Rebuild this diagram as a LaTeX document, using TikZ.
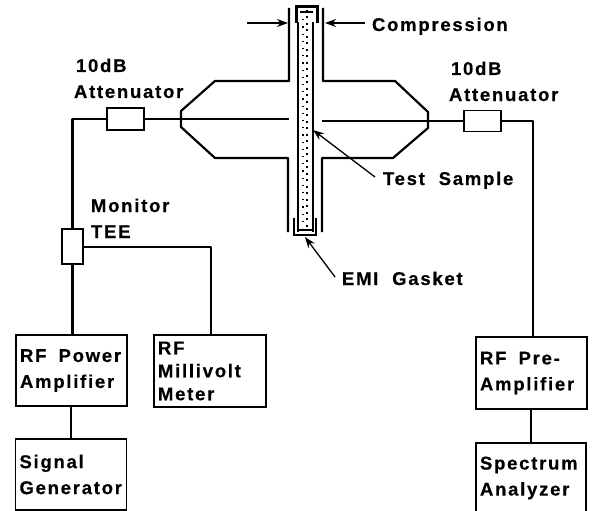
\documentclass[tikz,border=0pt]{standalone}
\usepackage{fontspec}
\setmainfont[LetterSpace=9.5,WordSpace=2,BoldFont=* Bold,BoldFeatures={FakeBold=0.4}]{Liberation Sans}
\usetikzlibrary{arrows.meta,calc}
\tikzset{
  x=1pt,y=-1pt,
  wire/.style={line width=1.7pt,line join=round},
  thick wire/.style={line width=2.2pt,line join=round},
  blockbox/.style={draw,line width=1.9pt,rectangle,minimum width=#1,minimum height=71pt,inner sep=0pt,outer sep=0pt,
     font=\fontsize{18.5}{26}\selectfont\bfseries,align=left,text width=#1-8pt},
  blockbox/.default=111pt,
  smallbox/.style={draw,line width=1.9pt,rectangle,inner sep=0pt,outer sep=0pt},
  lab/.style={font=\fontsize{18.5}{26}\selectfont\bfseries,anchor=base west,inner sep=0pt,outer sep=0pt},
  pointer/.style={line width=1.3pt,-{Stealth[length=11pt,width=8pt]}},
}
\begin{document}
\begin{tikzpicture}
\useasboundingbox (0,0) rectangle (592,511);
\fill[white] (0,0) rectangle (592,511);
% boxes
\node[blockbox=111pt] (amp) at (71.5,370.5) {RF\hspace{6pt} Power\\Amplifier};
\node[blockbox=111pt] (gen) at (71,474.5) {Signal\\Generator};
\node[blockbox=112pt,minimum height=72pt,font=\fontsize{18.5}{23}\selectfont\bfseries] (meter) at (210,371) {RF\\Millivolt\\Meter};
\node[blockbox=111pt,minimum height=72pt] (pre) at (531.5,373) {RF\hspace{6pt} Pre-\\Amplifier};
\node[blockbox=110pt,minimum height=70pt] (spec) at (531,478) {Spectrum\\Analyzer};
% small components
\node[smallbox,minimum width=37pt,minimum height=22pt] (latt) at (125.5,119) {};
\node[smallbox,minimum width=37pt,minimum height=21pt] (ratt) at (482.5,121) {};
\node[smallbox,minimum width=21pt,minimum height=35pt] (tee) at (72.5,246.5) {};
% named points
\coordinate (lcorner) at (72.5,119);
\coordinate (rcorner) at (533,121);
\coordinate (ltip) at (181,119);
\coordinate (lin) at (289,119);
\coordinate (rin) at (322,121);
\coordinate (rtip) at (428,121);
\coordinate (mcorner) at (211,247);
% connectors
\draw[thick wire] (latt.west) -- (lcorner) -- (tee.north -| lcorner);
\draw[wire] (latt.east) -- (ltip) -- (lin);
\draw[wire] (rin) -- (rtip) -- (ratt.west);
\draw[thick wire] (ratt.east) -- (rcorner) -- (rcorner |- pre.north);
\draw[thick wire] (tee.south) -- (tee.south |- amp.north);
\draw[wire] (tee.east |- mcorner) -- (mcorner) -- (meter.north -| mcorner);
\draw[thick wire] (amp.south -| gen.north) -- (gen.north);
\draw[thick wire] (pre.south -| spec.north) -- (spec.north);
% horns
\draw[thick wire] (289,8) -- (289,81) -- (215,81) -- (181,111) -- (181,127) -- (215,158) -- (288,158) -- (288,232);
\draw[thick wire] (323,8) -- (323,81) -- (395,81) -- (428,112) -- (428,128) -- (393,158) -- (322,158) -- (322,232);
% sample
\draw[line width=2.3pt] (298,22) -- (298,232);
\draw[line width=2.3pt] (313,22) -- (313,232);
\draw[line width=2pt,dash pattern=on 2pt off 4.5pt] (306.5,10) -- (306.5,228);
\draw[line width=1.2pt,dash pattern=on 1.2pt off 6pt] (303,12) -- (303,228);
% gaskets
\draw[line width=3pt] (296,23) -- (296,7) -- (317,7) -- (317,23);
\draw[line width=2pt] (300,12) -- (313,12);
\draw[line width=2pt] (294,218) -- (294,235) -- (315.5,235) -- (315.5,218);
\draw[line width=1.4pt] (298,230) -- (313,230);
% pointers
\coordinate (cl0) at (247,23); \coordinate (cl1) at (288,23);
\coordinate (cr0) at (365,23); \coordinate (cr1) at (325,23);
\draw[pointer] (cl0) -- (cl1);
\draw[pointer] (cr0) -- (cr1);
% labels
\node[lab] (compr) at (372,31) {Compression};
\node[lab] (la1) at (76,72) {10dB};
\node[lab] (la2) at (74,98) {Attenuator};
\node[lab] (ra1) at (451,75) {10dB};
\node[lab] (ra2) at (449,101) {Attenuator};
\node[lab] (ts) at (383,185) {Test Sample};
\node[lab] (emi) at (342,285) {EMI Gasket};
\node[lab] (mon) at (91,212) {Monitor};
\node[lab] (teel) at (91,238) {TEE};
\coordinate (tsend) at (375,177); \coordinate (tstip) at (313,130);
\coordinate (emiend) at (335,277); \coordinate (emitip) at (305,237);
\draw[pointer] (tsend) -- (tstip);
\draw[pointer] (emiend) -- (emitip);
\end{tikzpicture}
\end{document}
